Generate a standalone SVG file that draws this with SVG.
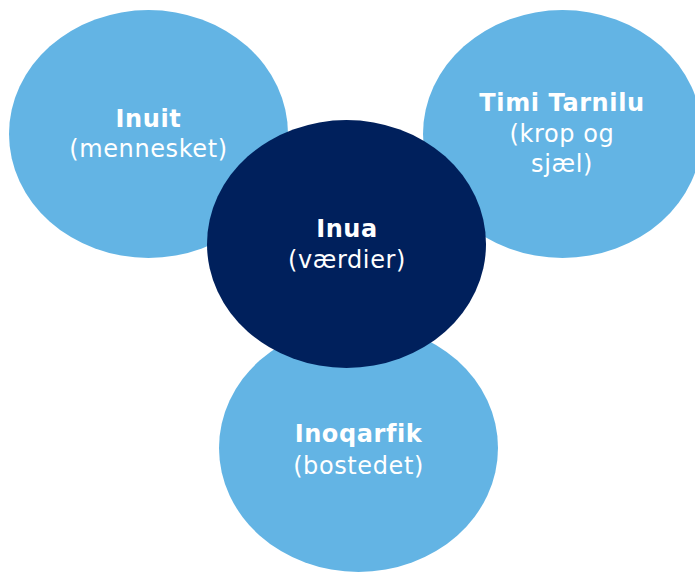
<svg xmlns="http://www.w3.org/2000/svg" width="695" height="572" viewBox="0 0 695 572">
<style>
.light{fill:#63b4e4}
.dark{fill:#00205c}
text{font-family:"DejaVu Sans","Verdana",sans-serif;font-size:24px;letter-spacing:0.6px;fill:#ffffff;text-anchor:middle}
.b{font-weight:bold}
</style>
<rect width="695" height="572" fill="#ffffff"/>
<g id="connectors"></g>
<g id="inuit">
<ellipse class="light" cx="148.5" cy="134" rx="139.5" ry="124"/>
<text x="148.5" y="127" class="b">Inuit</text>
<text x="148.5" y="157">(mennesket)</text>
</g>
<g id="timi-tarnilu">
<ellipse class="light" cx="562.5" cy="134" rx="139.5" ry="124"/>
<text x="562" y="111" class="b">Timi Tarnilu</text>
<text x="562" y="142">(krop og</text>
<text x="562" y="172">sjæl)</text>
</g>
<g id="inoqarfik">
<ellipse class="light" cx="358.5" cy="448" rx="139.5" ry="124"/>
<text x="358.5" y="442" class="b">Inoqarfik</text>
<text x="358.5" y="474">(bostedet)</text>
</g>
<g id="inua">
<ellipse class="dark" cx="346.5" cy="244" rx="139.5" ry="124"/>
<text x="347" y="237" class="b">Inua</text>
<text x="347" y="268">(værdier)</text>
</g>
</svg>
